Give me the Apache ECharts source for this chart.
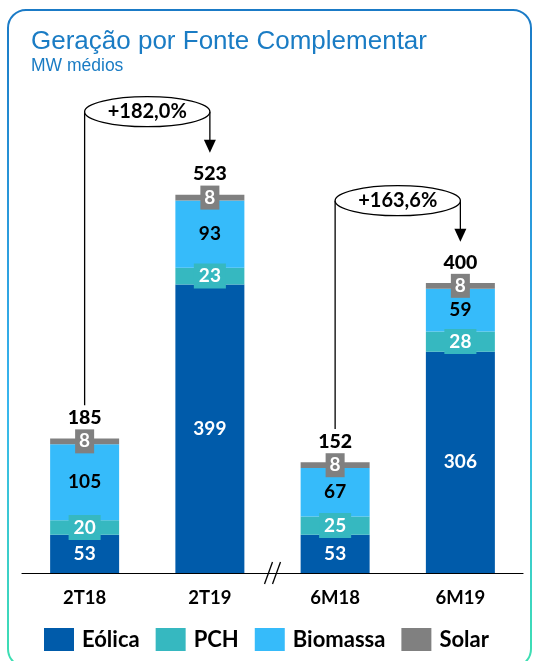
<!DOCTYPE html>
<html>
<head>
<meta charset="utf-8">
<script src="https://cdn.jsdelivr.net/npm/echarts@6/dist/echarts.min.js"></script>
<style>
html,body{margin:0;padding:0;background:#fff;}
#c{width:533px;height:661px;}
</style>
</head>
<body>
<div id="c"></div>
<script>
const categories = ['2T18', '2T19', '6M18', '6M19'];
const seriesNames = ['Eólica', 'PCH', 'Biomassa', 'Solar'];
const eolica = [53, 399, 53, 306];
const pch = [20, 23, 25, 28];
const biomassa = [105, 93, 67, 59];
const solar = [8, 8, 8, 8];
const totals = [185, 523, 152, 400];
const growthFrom = [0, 2];
const growthTo = [1, 3];
const growthLabels = ['+182,0%', '+163,6%'];

const FONT = 'Lato';
const colors = ['#005BAA', '#36B8C0', '#36BBFA', '#808080'];

const chart = echarts.init(document.getElementById('c'), null, {renderer: 'canvas'});

const baseLabel = {show: true, position: 'inside', fontFamily: FONT, fontWeight: 'bold', fontSize: 19};

const option = {
  animation: false,
  color: colors,
  grid: {left: 22, width: 501, top: 139, bottom: 88, containLabel: false},
  xAxis: {
    type: 'category', data: categories,
    axisLine: {lineStyle: {color: '#000', width: 1.2}},
    axisTick: {show: false},
    axisLabel: {color: '#000', fontFamily: FONT, fontWeight: 'bold', fontSize: 18.5, margin: 16}
  },
  yAxis: {type: 'value', min: 0, max: 600, show: false, splitLine: {show: false}},
  legend: {
    data: seriesNames, left: 44, top: 628, itemWidth: 30, itemHeight: 23, itemGap: 16,
    icon: 'rect', padding: 0,
    textStyle: {color: '#000', fontFamily: FONT, fontWeight: 'bold', fontSize: 22, padding: [0, 0, 0, 3]}
  },
  series: [
    {name: 'Eólica', type: 'bar', stack: 't', data: eolica, barWidth: 69,
      label: Object.assign({}, baseLabel, {color: '#fff'})},
    {name: 'PCH', type: 'bar', stack: 't', data: pch,
      label: Object.assign({}, baseLabel, {color: '#fff', backgroundColor: colors[1], padding: [3, 5, 3, 5]})},
    {name: 'Biomassa', type: 'bar', stack: 't', data: biomassa,
      label: Object.assign({}, baseLabel, {color: '#000'})},
    {name: 'Solar', type: 'bar', stack: 't', data: solar,
      label: Object.assign({}, baseLabel, {color: '#fff', backgroundColor: colors[3], padding: [3, 4, 2, 4]})},
    {name: 'Total', type: 'scatter', data: totals, symbolSize: 0, silent: true, z: 5,
      itemStyle: {opacity: 1, color: 'transparent'},
      label: {show: true, position: 'top', distance: 11, color: '#000', opacity: 1, fontFamily: FONT, fontWeight: 900, fontSize: 19.5}}
  ]
};
chart.setOption(option);

const graphics = [];
graphics.push({
  type: 'rect', silent: true, z: 0,
  shape: {x: 8, y: 10, width: 523, height: 657, r: 18},
  style: {
    fill: 'none', lineWidth: 2,
    stroke: new echarts.graphic.LinearGradient(0, 0, 0, 1, [
      {offset: 0, color: '#1a7ac6'},
      {offset: 0.6, color: '#38b6ee'},
      {offset: 1, color: '#3ee0b0'}
    ])
  }
});
graphics.push({type: 'text', left: 31, top: 29, style: {text: 'Geração por Fonte Complementar', fill: '#1a7cc4', font: '26px "Liberation Sans", Arial, sans-serif'}});
graphics.push({type: 'text', left: 31, top: 57, style: {text: 'MW médios', fill: '#1a7cc4', font: '17.5px "Liberation Sans", Arial, sans-serif'}});

for (let i = 0; i < growthLabels.length; i++) {
  const a = growthFrom[i], b = growthTo[i];
  const p1 = chart.convertToPixel({gridIndex: 0}, [categories[a], totals[a]]);
  const p2 = chart.convertToPixel({gridIndex: 0}, [categories[b], totals[b]]);
  const cx = (p1[0] + p2[0]) / 2;
  const cy = p2[1] - 83;
  const rx = (p2[0] - p1[0]) / 2;
  const tipY = p2[1] - 42;
  graphics.push({type: 'line', silent: true, shape: {x1: p1[0], y1: cy, x2: p1[0], y2: p1[1] - 34}, style: {stroke: '#000', lineWidth: 1.3}});
  graphics.push({type: 'line', silent: true, shape: {x1: p2[0], y1: cy, x2: p2[0], y2: tipY - 10}, style: {stroke: '#000', lineWidth: 1.3}});
  graphics.push({type: 'polygon', silent: true, shape: {points: [[p2[0] - 6, tipY - 13], [p2[0] + 6, tipY - 13], [p2[0], tipY]]}, style: {fill: '#000'}});
  graphics.push({type: 'ellipse', silent: true, shape: {cx: cx, cy: cy, rx: rx, ry: 15}, style: {fill: '#fff', stroke: '#000', lineWidth: 1.3}, z: 10});
  graphics.push({type: 'text', silent: true, x: cx, y: cy, z: 11, style: {text: growthLabels[i], fill: '#000', align: 'center', verticalAlign: 'middle', font: 'bold 20px Lato'}});
}

const q1 = chart.convertToPixel({gridIndex: 0}, [categories[1], 0]);
const q2 = chart.convertToPixel({gridIndex: 0}, [categories[2], 0]);
const mx = (q1[0] + q2[0]) / 2, my = q1[1];
graphics.push({type: 'line', silent: true, z: 12, shape: {x1: mx - 8, y1: my + 11, x2: mx, y2: my - 11}, style: {stroke: '#000', lineWidth: 1.3}});
graphics.push({type: 'line', silent: true, z: 12, shape: {x1: mx, y1: my + 11, x2: mx + 8, y2: my - 11}, style: {stroke: '#000', lineWidth: 1.3}});

chart.setOption({graphic: graphics});
</script>
</body>
</html>
